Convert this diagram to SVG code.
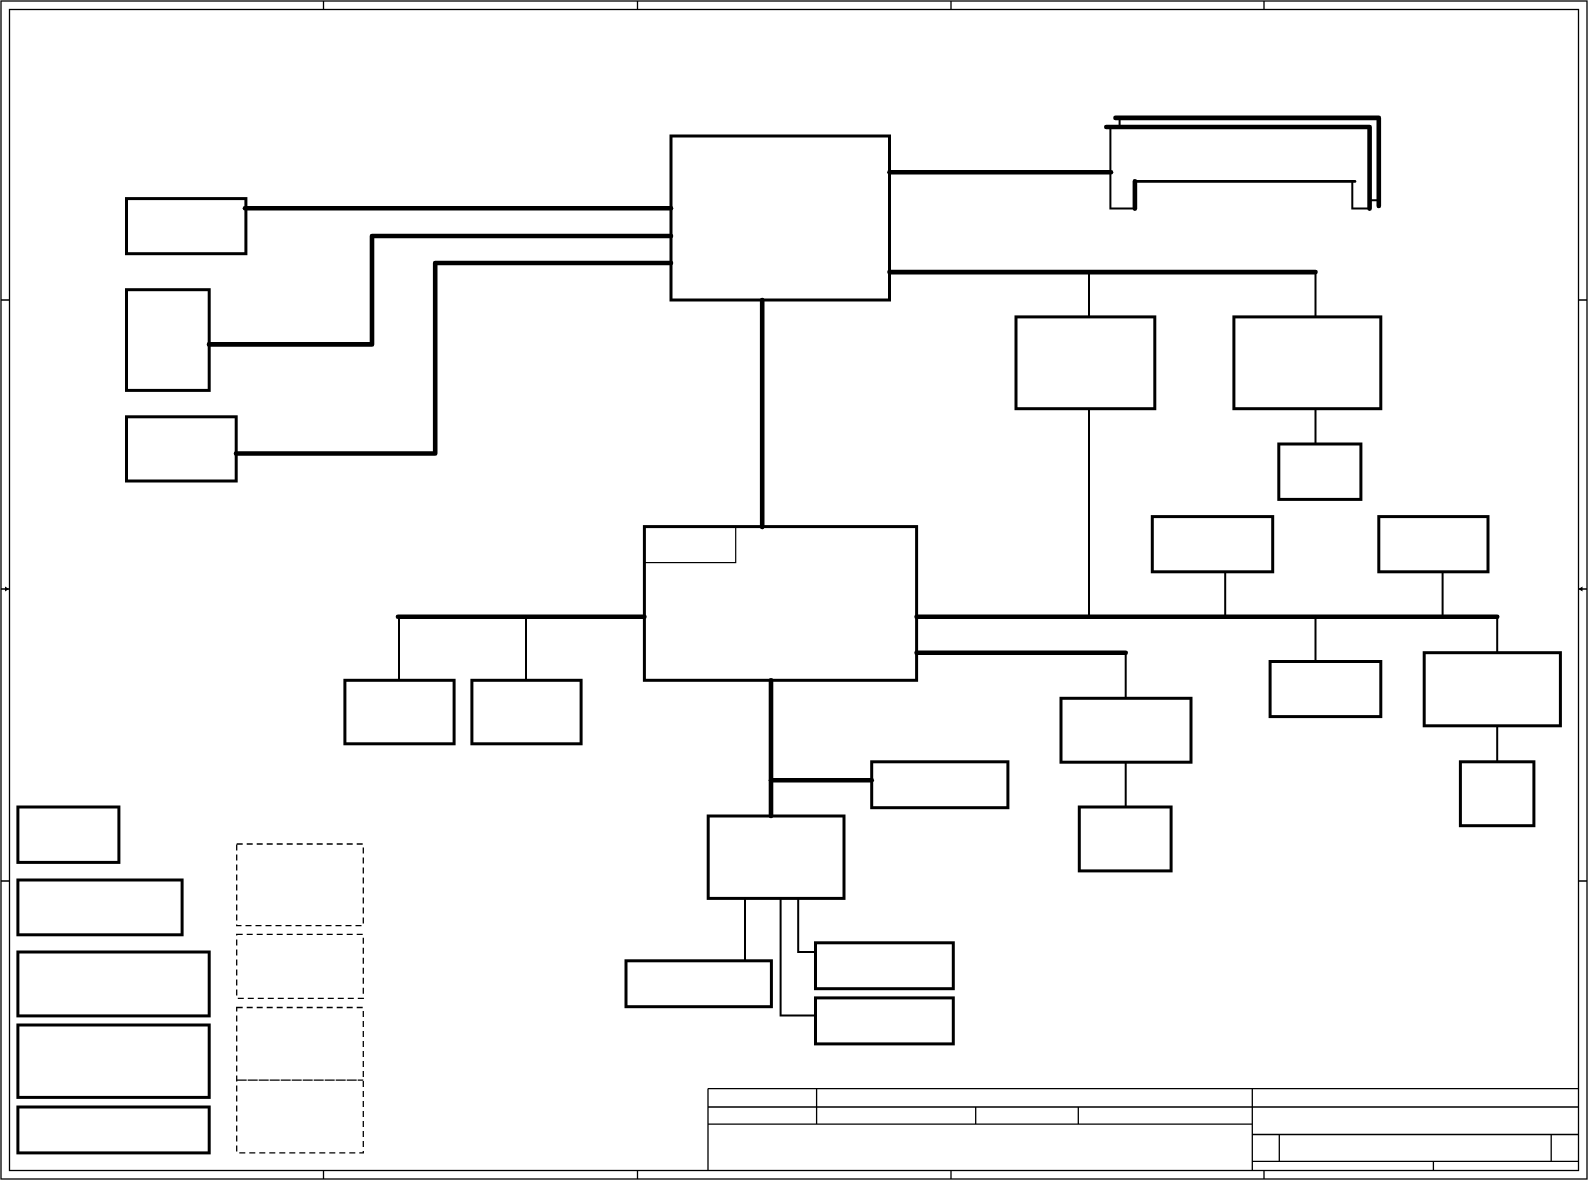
<svg xmlns="http://www.w3.org/2000/svg" width="1589" height="1180" viewBox="0 0 1589 1180">
<style>
.frame{fill:none;stroke:#000;stroke-width:1.3}
.box{fill:none;stroke:#000;stroke-width:3}
.dash{fill:none;stroke:#000;stroke-width:1.3;stroke-dasharray:6 4}
.bus{fill:none;stroke:#000;stroke-width:4.6;stroke-linecap:round;stroke-linejoin:round}
.mid{fill:none;stroke:#000;stroke-width:2.6;stroke-linecap:round}
.thin{fill:none;stroke:#000;stroke-width:2}
</style>
<rect width="1589" height="1180" fill="#fff"/>
<g id="frame">
<rect class="frame" x="1" y="1" width="1586" height="1178"/>
<rect class="frame" x="9.5" y="9.5" width="1569" height="1161"/>
<path class="frame" d="M323.5 1V9.5M637.5 1V9.5M951 1V9.5M1264 1V9.5M323.5 1170.5V1179M637.5 1170.5V1179M951 1170.5V1179M1264 1170.5V1179M1 300H9.5M1 881H9.5M1578.5 300H1587M1578.5 881H1587M1 589H9M1578.5 589H1587"/>
<path d="M9 589l-4-2.5v5zM1578.5 589l4-2.5v5z" fill="#000"/>
</g>
<g id="titleblock">
<path class="frame" d="M708 1088.6H1578.5M708 1088.6V1170.5M708 1107H1578.5M708 1124.2H1252.3M816.6 1088.6V1124.2M975.7 1107V1124.2M1078.3 1107V1124.2M1252.3 1088.6V1170.5M1252.3 1134.5H1578.5M1252.3 1161.3H1578.5M1279.3 1134.5V1161.3M1551.2 1134.5V1161.3M1433.4 1161.3V1170.5"/>
</g>
<g id="connectors">
<path class="bus" d="M245 208.2H671"/>
<path class="bus" d="M209 344.4H372V236H671"/>
<path class="bus" d="M236 453.5H435.2V263H671"/>
<path class="bus" d="M762.2 300V527"/>
<path class="bus" d="M889.5 172.2H1111"/>
<path class="bus" d="M889.5 272.1H1315.5"/>
<path class="thin" d="M1089 272V316.9M1315.5 272V316.9M1089 408.7V616.7M1315.5 408.7V444M1225.2 571.8V616.7M1442.6 571.8V616.7"/>
<path class="thin" d="M1110.4 127V208.6H1134.9M1352.3 181.4V208.6H1369.6M1119.6 117.9V127M1369.6 200.2H1378.8"/>
<path class="bus" d="M1134.9 208.6V181.4"/>
<path class="mid" d="M1135 181.4H1355"/>
<path class="bus" d="M1106.3 127H1369.6V208.6"/>
<path class="bus" d="M1115.5 117.9H1378.8V206"/>
<path class="bus" d="M398 616.7H644.4"/>
<path class="thin" d="M399 616.7V680.3M526 616.7V680.3"/>
<path class="bus" d="M916.6 616.7H1497.2"/>
<path class="thin" d="M1315.5 616.7V661.5M1497.2 616.7V652.7M1497.2 725.8V761.8"/>
<path class="bus" d="M916.6 652.7H1125.7"/>
<path class="thin" d="M1125.7 652.7V698.3M1125.7 762.2V807"/>
<path class="bus" d="M771 680.3V816"/>
<path class="bus" d="M771 780.2H871.7"/>
<path class="thin" d="M745 898.4V960.8M798.2 898.4V952H815.5M780.6 898.4V1015.5H815.5"/>
</g>
<g id="cpu"><rect class="box" x="671" y="136" width="218.5" height="164"/></g>
<g id="node-a"><rect class="box" x="126.5" y="198.6" width="119.4" height="55.1"/></g>
<g id="node-b"><rect class="box" x="126.5" y="289.7" width="82.7" height="100.7"/></g>
<g id="node-c"><rect class="box" x="126.5" y="416.8" width="109.7" height="64.2"/></g>
<g id="node-r1"><rect class="box" x="1016" y="316.9" width="138.8" height="91.8"/></g>
<g id="node-r2"><rect class="box" x="1233.9" y="316.9" width="146.9" height="91.8"/></g>
<g id="node-r3"><rect class="box" x="1278.8" y="444" width="82.1" height="55.4"/></g>
<g id="node-r4"><rect class="box" x="1152.3" y="516.6" width="120.4" height="55.2"/></g>
<g id="node-r5"><rect class="box" x="1378.8" y="516.6" width="109.2" height="55.2"/></g>
<g id="pch"><rect class="box" x="644.4" y="526.6" width="272.2" height="153.7"/><rect x="644.4" y="526.6" width="91.3" height="36" fill="none" stroke="#000" stroke-width="1.2"/></g>
<g id="node-l1"><rect class="box" x="344.9" y="680.3" width="109.2" height="63.5"/></g>
<g id="node-l2"><rect class="box" x="471.9" y="680.3" width="109.2" height="63.5"/></g>
<g id="node-r6"><rect class="box" x="1270.1" y="661.5" width="110.7" height="55.1"/></g>
<g id="node-r7"><rect class="box" x="1424.2" y="652.7" width="136.2" height="73.1"/></g>
<g id="node-r8"><rect class="box" x="1460.4" y="761.8" width="73.5" height="63.9"/></g>
<g id="node-m1"><rect class="box" x="1061" y="698.3" width="130" height="63.9"/></g>
<g id="node-m2"><rect class="box" x="1079.3" y="807" width="91.8" height="63.9"/></g>
<g id="node-m3"><rect class="box" x="871.7" y="761.8" width="136.2" height="45.9"/></g>
<g id="sio"><rect class="box" x="708.2" y="816" width="135.8" height="82.4"/></g>
<g id="node-s1"><rect class="box" x="626" y="960.8" width="145.4" height="45.9"/></g>
<g id="node-s2"><rect class="box" x="815.5" y="942.8" width="137.8" height="45.9"/></g>
<g id="node-s3"><rect class="box" x="815.5" y="997.9" width="137.8" height="46"/></g>
<g id="legend1"><rect class="box" x="17.9" y="807" width="101" height="55.4"/></g>
<g id="legend2"><rect class="box" x="17.9" y="880" width="164.2" height="54.8"/></g>
<g id="legend3"><rect class="box" x="17.9" y="952" width="191.3" height="63.9"/></g>
<g id="legend4"><rect class="box" x="17.9" y="1025" width="191.3" height="72.4"/></g>
<g id="legend5"><rect class="box" x="17.9" y="1107" width="191.3" height="45.9"/></g>
<g id="dash1"><rect class="dash" x="236.7" y="844" width="126.6" height="81.6"/></g>
<g id="dash2"><rect class="dash" x="236.7" y="934.4" width="126.6" height="63.9"/></g>
<g id="dash3"><rect class="dash" x="236.7" y="1007.5" width="126.6" height="145.4"/><path d="M236.7 1080.2H363.3" fill="none" stroke="#000" stroke-width="1.3" stroke-dasharray="10 1"/></g>
</svg>
